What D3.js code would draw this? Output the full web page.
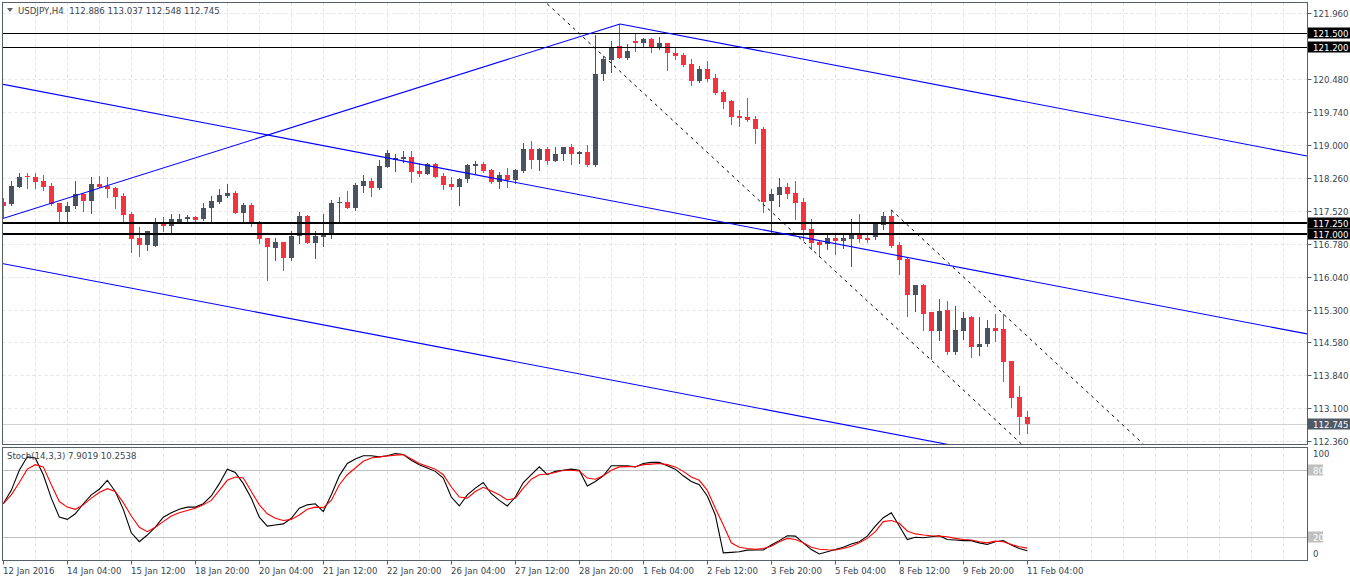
<!DOCTYPE html>
<html><head><meta charset="utf-8">
<script src="https://cdn.jsdelivr.net/npm/d3@7"></script>
<style>body{margin:0;background:#fff;overflow:hidden}svg{display:block}text{font-family:"DejaVu Sans",sans-serif;}</style>
</head><body><svg id="c" width="1350" height="581"></svg>
<script>
// ---------- DATA ----------
const symbolTitle = "USDJPY,H4";
const openP  = [117.72,117.67,118.06,118.31,118.27,118.19,118.08,117.69,117.50,117.63,117.90,117.75,118.12,118.08,118.04,117.85,117.45,116.90,116.75,116.73,117.28,117.19,117.28,117.33,117.39,117.33,117.58,117.72,117.86,117.93,117.46,117.65,117.28,116.90,116.69,116.81,116.47,116.96,117.40,116.79,116.94,116.99,117.69,117.72,117.59,118.08,118.19,118.04,118.51,118.67,118.68,118.72,118.41,118.35,118.57,118.30,118.12,118.06,118.23,118.53,118.57,118.44,118.17,118.32,118.21,118.42,118.91,118.67,118.91,118.64,118.79,118.94,118.79,118.83,118.55,120.59,120.90,121.22,120.95,121.33,121.29,121.37,121.19,121.28,121.05,121.01,120.81,120.43,120.69,120.49,120.19,119.98,119.65,119.62,119.58,119.35,117.74,117.87,118.06,117.91,117.71,117.11,116.81,116.77,116.90,116.84,116.89,117.03,116.92,116.94,117.20,117.40,116.75,116.44,115.63,115.86,115.24,114.83,115.30,114.35,114.83,115.13,114.47,114.53,114.89,114.87,114.15,113.34,112.886];
const highP  = [117.80,118.19,118.37,118.36,118.36,118.33,118.14,117.70,117.72,118.19,117.93,118.28,118.31,118.28,118.05,117.93,117.50,117.16,117.07,117.35,117.37,117.45,117.45,117.43,117.40,117.69,117.85,118.00,118.12,117.96,117.69,117.69,117.29,116.91,116.90,116.83,117.07,117.50,117.43,117.07,117.44,117.76,117.84,117.96,118.15,118.32,118.26,118.67,118.88,118.79,118.85,118.86,118.59,118.59,118.59,118.37,118.27,118.26,118.56,118.64,118.61,118.46,118.38,118.47,118.46,119.03,119.09,118.92,118.94,118.94,118.96,119.01,118.86,119.00,121.46,120.98,121.33,121.71,121.25,121.50,121.39,121.40,121.41,121.29,121.20,121.05,120.92,120.77,120.88,120.59,120.23,120.00,119.78,120.06,119.65,119.39,118.01,118.26,118.15,118.19,117.80,117.34,116.87,116.99,116.99,116.99,117.34,117.45,117.02,117.28,117.50,117.54,116.83,116.46,115.86,115.87,115.26,115.54,115.50,115.39,115.24,115.16,115.15,115.07,115.21,115.21,114.16,113.59,113.037];
const lowP   = [117.39,117.65,118.05,118.04,118.04,117.99,117.66,117.28,117.28,117.59,117.52,117.46,118.06,117.84,117.59,117.24,116.60,116.51,116.63,116.72,117.07,117.02,117.24,117.26,117.28,117.32,117.24,117.70,117.82,117.46,117.28,117.19,116.79,115.97,116.42,116.19,116.42,116.79,116.79,116.47,116.72,116.90,117.25,117.58,117.54,117.95,117.86,118.01,118.50,118.42,118.61,118.17,118.31,118.34,118.27,118.01,118.01,117.65,118.17,118.37,118.40,118.15,118.04,118.06,118.15,118.40,118.49,118.43,118.56,118.63,118.67,118.56,118.60,118.53,118.53,120.45,120.64,120.94,120.92,121.11,121.22,121.07,121.15,120.68,120.92,120.77,120.34,120.41,120.43,120.15,119.82,119.47,119.42,119.53,119.05,117.50,117.05,117.63,117.80,117.34,116.87,116.66,116.51,116.66,116.55,116.69,116.28,116.83,116.83,116.89,117.11,116.70,116.10,115.17,115.27,114.85,114.20,114.62,114.32,114.32,114.64,114.25,114.29,114.49,114.61,113.71,113.11,112.52,112.548];
const closeP = [117.63,118.08,118.28,118.27,118.17,118.06,117.67,117.50,117.63,117.90,117.75,118.12,118.06,118.02,117.84,117.43,116.89,116.75,117.07,117.28,117.19,117.34,117.34,117.39,117.31,117.59,117.74,117.87,117.91,117.46,117.65,117.28,116.89,116.70,116.81,116.47,116.96,117.40,116.79,116.96,116.99,117.70,117.72,117.59,118.10,118.19,118.04,118.52,118.81,118.70,118.72,118.40,118.35,118.57,118.28,118.10,118.06,118.23,118.55,118.57,118.41,118.17,118.32,118.21,118.44,118.91,118.67,118.91,118.64,118.79,118.94,118.79,118.83,118.55,120.59,120.92,121.20,120.95,121.10,121.29,121.37,121.19,121.28,121.05,121.00,120.79,120.43,120.69,120.48,120.17,119.97,119.63,119.61,119.56,119.35,117.72,117.90,118.06,117.90,117.70,117.09,116.80,116.75,116.90,116.84,116.90,117.03,116.89,116.87,117.22,117.40,116.73,116.42,115.63,115.86,115.21,114.83,115.27,114.35,114.85,115.11,114.47,114.53,114.89,114.83,114.14,113.32,112.886,112.745];
const stochK = [50,62,80,92,91,76,55,38,36,41,50,58,63,71,61,45,24,16,22,29,38,42,45,47,47,50,57,68,81,78,68,55,38,30,31,32,37,46,49,50,43,58,75,86,90,93,93,92,93,95,94,89,85,82,79,73,56,48,58,64,69,59,53,48,56,69,76,83,76,79,80,81,80,66,70,75,84,84,84,83,86,87,87,84,81,75,70,67,57,40,6,6.5,7,8.5,8.6,8.6,13,17,21.4,21,15,9,5,7,9,11,14,16,21,30,37.5,42,30,18,20,19.5,20.5,21.4,18,17.5,17,17,15,13.5,16,17,13,10,7.9019];
const stochD = [50,58,69,81,85,83,67,52,47,45,49,55,60,63.5,61,51,39,29,25,29,34,39,42,44,46,49,53,62,71,74,73,61,49,41,37,35,36,40,45,47,46.5,53,67,76,82,88,91,92,92.7,93.5,94,90,86,83.5,81,76,65,56,55,61,64.7,61.4,58,53.5,55,64,72,76,76.6,78,80,80,79.3,73,72,75,80,83,83.2,83.2,85,85.5,86,85,83,79,74,71,62,46,31,15,11,10,9.2,10,12,16,19,18,15,11,9.2,8.8,8.6,10,12,15,19,25,34,35,32.5,25.6,23,22,21.4,21,20.5,19,18,17.5,16,15,16.5,16,13.6,11.5,10.2538];
const timeLabels = ["12 Jan 2016","14 Jan 04:00","15 Jan 12:00","18 Jan 20:00","20 Jan 04:00","21 Jan 12:00","22 Jan 20:00","26 Jan 04:00","27 Jan 12:00","28 Jan 20:00","1 Feb 04:00","2 Feb 12:00","3 Feb 20:00","5 Feb 04:00","8 Feb 12:00","9 Feb 20:00","11 Feb 04:00"];
const labelEvery = 8; // bars between time labels
const priceTicks = [121.960,120.480,119.740,119.000,118.260,117.520,116.780,116.040,115.300,114.580,113.840,113.100,112.360];
const levelPrices = [121.500,121.200,117.250,117.000];
const bidPrice = 112.745;
const stochTicks = [100,80,20,0];
const stochLevels = [80,20];
// trend objects: [bar1, price1, bar2, price2]
const channelLines = [[-0.16,117.34,77.1,121.71],[77.1,121.71,162.96,118.75],[-0.16,120.36,162.96,114.76],[-0.16,116.34,162.96,110.74]];
const dashedLines = [[68,122.16,128,112.17],[111,117.54,142.5,112.29]];

// ---------- LAYOUT ----------
const L=2.5, R=1307.5, MT=2.5, MB=444.5, ST=447.5, SB=560.5;
const svg=d3.select("#c");
const x=d3.scaleLinear().domain([0,128]).range([3.3,1027.3]);
const y=d3.scaleLinear().domain([112.36,121.96]).range([440.94,12.78]);
const ys=d3.scaleLinear().domain([0,100]).range([559.6,447.9]);
const txt="#3a4550", up="#48535f", dn="#f7323f", frame="#56606a", grid="#e3e3e3";

const defs=svg.append("defs");
defs.append("clipPath").attr("id","cm").append("rect").attr("x",L).attr("y",MT).attr("width",R-L).attr("height",MB-MT);
defs.append("clipPath").attr("id","cs").append("rect").attr("x",L).attr("y",ST).attr("width",R-L).attr("height",SB-ST);

// grid
const gridBars=d3.range(4,163,4);
const g0=svg.append("g");
gridBars.forEach(b=>{
  const gx=Math.round(x(b))+0.5;
  [[MT,MB],[ST,SB]].forEach(([a,c])=>g0.append("line").attr("x1",gx).attr("x2",gx).attr("y1",a).attr("y2",c).attr("stroke",grid).attr("stroke-dasharray","3,3"));
});
priceTicks.forEach(p=>{
  const gy=Math.round(y(p))+0.5;
  g0.append("line").attr("x1",L).attr("x2",R).attr("y1",gy).attr("y2",gy).attr("stroke",grid).attr("stroke-dasharray","3,3");
});
// bid line
g0.append("line").attr("x1",L).attr("x2",R).attr("y1",Math.round(y(bidPrice))+0.5).attr("y2",Math.round(y(bidPrice))+0.5).attr("stroke","#d2d2d2");

// candles
const gm=svg.append("g").attr("clip-path","url(#cm)");
const idx=d3.range(openP.length);
idx.forEach(i=>{
  const cx=Math.round(x(i)), bull=closeP[i]>=openP[i], col=bull?up:dn;
  gm.append("line").attr("x1",cx+0.5).attr("x2",cx+0.5).attr("y1",Math.round(y(highP[i]))).attr("y2",Math.round(y(lowP[i]))+1).attr("stroke",col).attr("stroke-width",1);
  const t=Math.round(y(Math.max(openP[i],closeP[i]))), b=Math.round(y(Math.min(openP[i],closeP[i])));
  gm.append("rect").attr("x",cx-2).attr("y",t).attr("width",5).attr("height",Math.max(1,b-t)).attr("fill",col);
});

// level lines
levelPrices.forEach((p,i)=>{
  const w=i<2?1:2.2;
  const ly=i<2?Math.round(y(p))+0.5:Math.round(y(p));
  gm.append("line").attr("x1",L).attr("x2",R).attr("y1",ly).attr("y2",ly).attr("stroke","#000").attr("stroke-width",w);
});
// channel lines
channelLines.forEach(d=>gm.append("line").attr("x1",x(d[0])).attr("y1",y(d[1])).attr("x2",x(d[2])).attr("y2",y(d[3])).attr("stroke","#0000ff").attr("stroke-width",1.1));
dashedLines.forEach(d=>gm.append("line").attr("x1",x(d[0])).attr("y1",y(d[1])).attr("x2",x(d[2])).attr("y2",y(d[3])).attr("stroke","#000").attr("stroke-width",1).attr("stroke-dasharray","3,4"));

// stochastic
const gs=svg.append("g").attr("clip-path","url(#cs)");
stochLevels.forEach(v=>gs.append("line").attr("x1",L).attr("x2",R).attr("y1",Math.round(ys(v))+0.5).attr("y2",Math.round(ys(v))+0.5).attr("stroke","#c0c0c0"));
const ln=arr=>d3.line().x((d,i)=>x(i)).y(d=>ys(d))(arr);
gs.append("path").attr("d",ln(stochK)).attr("fill","none").attr("stroke","#000").attr("stroke-width",1.1);
gs.append("path").attr("d",ln(stochD)).attr("fill","none").attr("stroke","#ff0000").attr("stroke-width",1.1);

// frames
svg.append("rect").attr("x",L).attr("y",MT).attr("width",R-L).attr("height",MB-MT).attr("fill","none").attr("stroke",frame);
svg.append("rect").attr("x",L).attr("y",ST).attr("width",R-L).attr("height",SB-ST).attr("fill","none").attr("stroke",frame);

// right price axis
const fs="8.6px";
priceTicks.forEach(p=>{
  const py=Math.round(y(p))+0.5;
  svg.append("line").attr("x1",R).attr("x2",R+4).attr("y1",py).attr("y2",py).attr("stroke",frame);
  svg.append("text").attr("x",1313).attr("y",py+3.5).attr("fill",txt).attr("font-size",fs).text(p.toFixed(3));
});
levelPrices.forEach(p=>{
  const py=y(p);
  svg.append("rect").attr("x",1308).attr("y",Math.round(py)-5.5).attr("width",42).attr("height",11).attr("fill","#000");
  svg.append("text").attr("x",1313).attr("y",Math.round(py)+3.5).attr("fill","#fff").attr("font-size",fs).text(p.toFixed(3));
});
{
  const py=y(bidPrice);
  svg.append("rect").attr("x",1308).attr("y",Math.round(py)-5.5).attr("width",42).attr("height",11).attr("fill","#4e5965");
  svg.append("text").attr("x",1313).attr("y",Math.round(py)+3.5).attr("fill","#fff").attr("font-size",fs).text(bidPrice.toFixed(3));
}
// stoch axis
stochTicks.forEach(v=>{
  let py=ys(v);
  if(v===100) py=453; if(v===0) py=553;
  const lvl=stochLevels.includes(v);
  if(lvl){
    svg.append("rect").attr("x",1308).attr("y",Math.round(py)-5.5).attr("width",15).attr("height",11).attr("fill","#c0c0c0");
  }
  svg.append("text").attr("x",1313).attr("y",Math.round(py)+3.5).attr("fill",lvl?"#fff":txt).attr("font-size",fs).text(v);
});

// time axis
timeLabels.forEach((t,i)=>{
  const tx=Math.round(x(i*labelEvery))+0.5;
  svg.append("line").attr("x1",tx).attr("x2",tx).attr("y1",SB).attr("y2",SB+4).attr("stroke",frame);
  svg.append("text").attr("x",tx-0.5).attr("y",574).attr("fill",txt).attr("font-size",fs).text(t);
});

// headers
svg.append("path").attr("d","M7,8 L13,8 L10,12 Z").attr("fill","#5a636c");
const last=openP.length-1;
svg.append("text").attr("x",18).attr("y",14).attr("fill",txt).attr("font-size",fs).attr("xml:space","preserve").style("white-space","pre")
  .text(symbolTitle+"  "+[openP[last],highP[last],lowP[last],closeP[last]].map(v=>v.toFixed(3)).join(" "));
svg.append("text").attr("x",7).attr("y",459).attr("fill",txt).attr("font-size",fs)
  .text("Stoch(14,3,3) "+stochK[stochK.length-1].toFixed(4)+" "+stochD[stochD.length-1].toFixed(4));
</script></body></html>
